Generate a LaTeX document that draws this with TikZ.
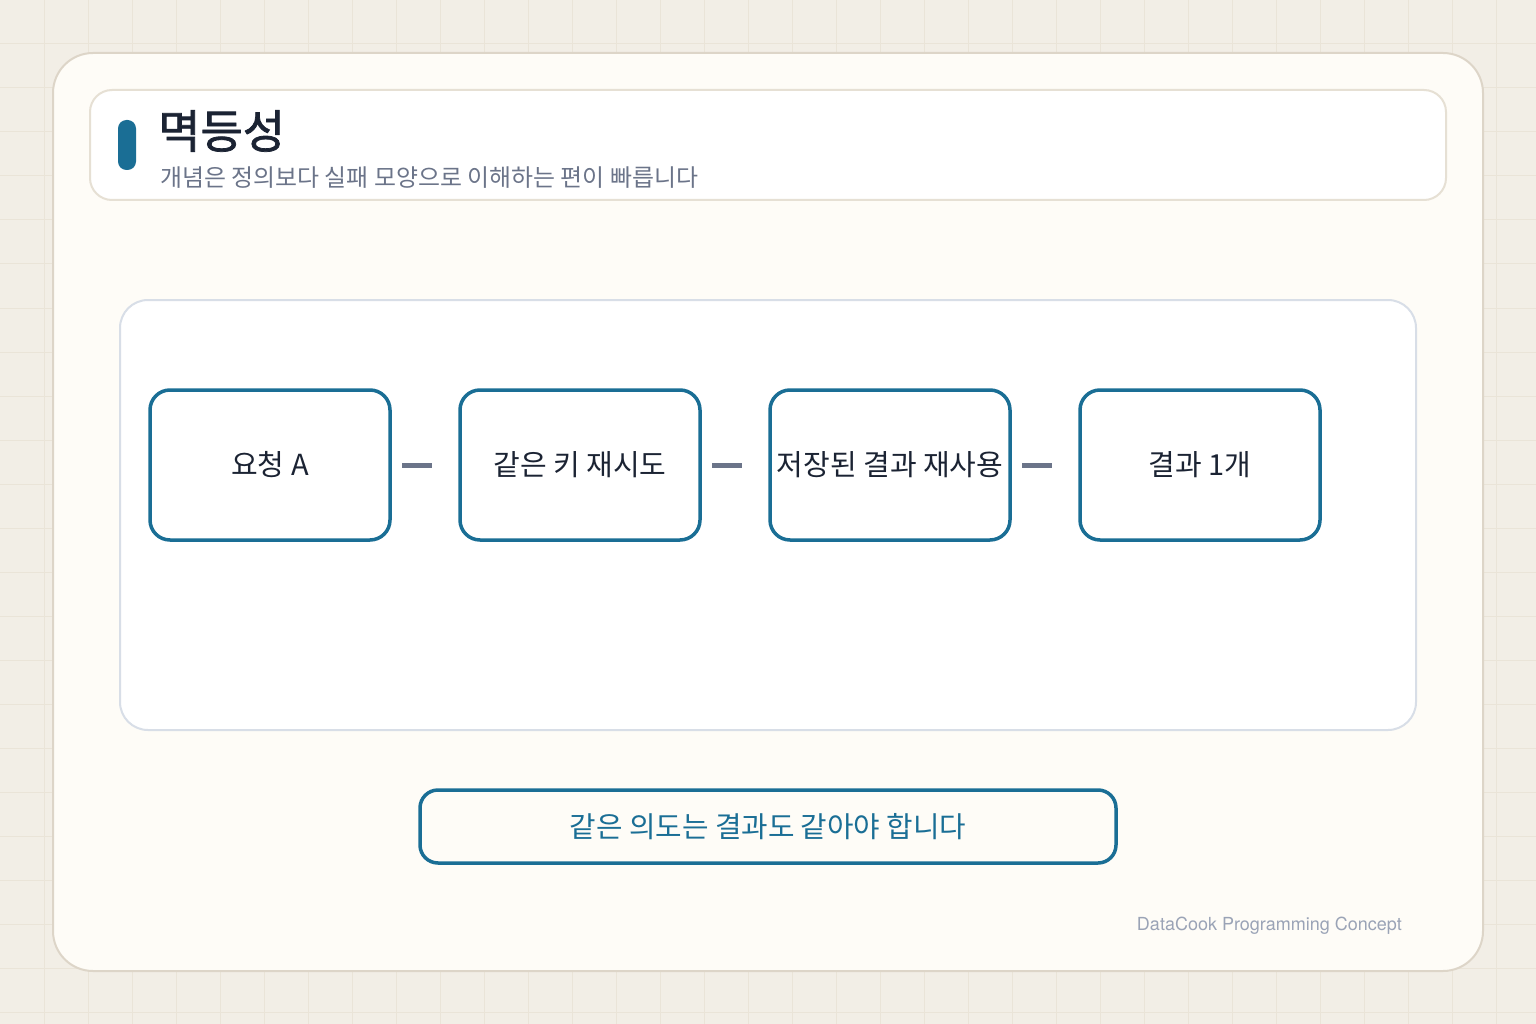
\documentclass[tikz,border=0pt]{standalone}
\usepackage{fontspec}
\usepackage{xcolor}
\usepackage{tikz}
\setmainfont{Noto Sans CJK KR}
\newfontfamily\titlefont{Noto Sans CJK KR}[FakeBold=1.6]
\newfontfamily\footfont{TeX Gyre Heros}

\definecolor{paper}{HTML}{F2EEE6}
\definecolor{paperline}{HTML}{EAE4D8}
\definecolor{cardfill}{HTML}{FEFCF7}
\definecolor{cardedge}{HTML}{DDD5C8}
\definecolor{headedge}{HTML}{E6E0D4}
\definecolor{paneledge}{HTML}{D8DEE7}
\definecolor{accent}{HTML}{1A6E95}
\definecolor{ink}{HTML}{1B2333}
\definecolor{slate}{HTML}{6B7489}
\definecolor{faint}{HTML}{9AA3B6}

\begin{document}
\begin{tikzpicture}[x=1pt, y=-1pt]
	\tikzstyle{every node}=[inner sep=0pt];
	\tikzstyle{stage}=[draw=accent, line width=3.5pt, fill=white, rounded corners=20pt,
		minimum width=240pt, minimum height=150pt, text=ink, font=\fontsize{29}{33}\selectfont];
	\tikzstyle{link}=[slate, line width=5pt, shorten <=10.25pt, shorten >=26.25pt];
	
	%Background
	\useasboundingbox (0, 0) rectangle (1536, 1024);
	\fill[paper] (0, 0) rectangle (1536, 1024);
	\foreach \gx in {44, 88, ..., 1536}
		\draw[paperline, line width=1pt] (\gx, 0) -- (\gx, 1024);
	\foreach \gy in {44, 88, ..., 1024}
		\draw[paperline, line width=1pt] (0, \gy) -- (1536, \gy);
	
	%Card
	\draw[cardedge, fill=cardfill, line width=2pt, rounded corners=40pt] (53, 53) rectangle (1483, 971);
	
	%Header
	\draw[headedge, fill=white, line width=2pt, rounded corners=22pt] (90, 90) rectangle (1446, 200);
	\fill[accent, rounded corners=8.5pt] (118, 120) rectangle (136, 170);
	\node[anchor=west, text=ink, font=\titlefont\fontsize{46}{50}\selectfont] (title) at (158, 131) {멱등성};
	\node[anchor=west, text=slate, font=\fontsize{23.9}{26}\selectfont] (subtitle) at (160, 177.5) {개념은 정의보다 실패 모양으로 이해하는 편이 빠릅니다};
	
	%Panel
	\draw[paneledge, fill=white, line width=2pt, rounded corners=28pt] (120, 300) rectangle (1416, 730);
	
	%Stages
	\node[stage] (request) at (270, 465) {요청 A};
	\node[stage] (retry) at (580, 465) {같은 키 재시도};
	\node[stage] (reuse) at (890, 465) {저장된 결과 재사용};
	\node[stage] (result) at (1200, 465) {결과 1개};
	
	\draw[link] (request) -- (retry);
	\draw[link] (retry) -- (reuse);
	\draw[link] (reuse) -- (result);
	
	%Takeaway
	\node[draw=accent, line width=3.5pt, fill=cardfill, rounded corners=18pt, minimum width=696pt, minimum height=73pt,
		text=accent, font=\fontsize{28.8}{32}\selectfont] (takeaway) at (768, 826.5) {같은 의도는 결과도 같아야 합니다};
	
	%Footer
	\node[anchor=east, text=faint, font=\footfont\fontsize{18}{20}\selectfont] (credit) at (1402, 925.5) {DataCook Programming Concept};
\end{tikzpicture}
\end{document}
